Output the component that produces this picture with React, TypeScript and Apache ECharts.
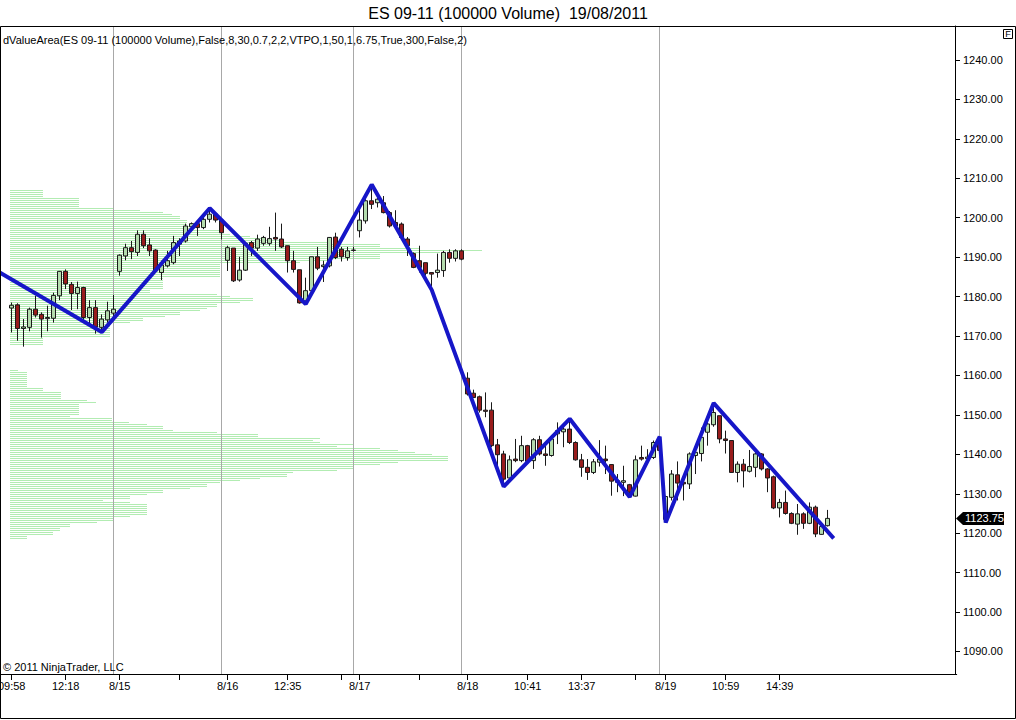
import React, { useEffect, useRef } from "react";
import * as echarts from "echarts";

const TITLE = "ES 09-11 (100000 Volume)  19/08/2011";
const INDICATOR =
  "dValueArea(ES 09-11 (100000 Volume),False,8,30,0.7,2,2,VTPO,1,50,1,6.75,True,300,False,2)";
const COPYRIGHT = "\u00A9 2011 NinjaTrader, LLC";
const FONT = '"Liberation Sans", Arial, sans-serif';

// category slots: 2 leading empty slots, then the bars
const LEAD = 2;
const SLOTS = 160;

// OHLC bars: [open, close, low, high]
const bars: number[][] = [
  [1177.1, 1177.8, 1170.9, 1178.5],
  [1177.9, 1171.9, 1168.8, 1178.3],
  [1171.9, 1172.3, 1167.3, 1174.3],
  [1172.2, 1176.8, 1171.2, 1177.2],
  [1176.8, 1175.3, 1174.7, 1180.2],
  [1175.5, 1174.3, 1169.6, 1176.0],
  [1174.4, 1174.7, 1171.2, 1177.7],
  [1174.5, 1180.3, 1173.4, 1181.0],
  [1180.2, 1186.4, 1179.1, 1186.5],
  [1186.4, 1183.2, 1181.9, 1186.9],
  [1183.1, 1180.8, 1176.6, 1183.7],
  [1180.8, 1182.3, 1176.8, 1183.8],
  [1182.3, 1174.7, 1173.9, 1182.5],
  [1174.7, 1177.2, 1173.0, 1179.1],
  [1177.2, 1172.3, 1170.6, 1179.1],
  [1172.2, 1174.3, 1171.0, 1175.5],
  [1174.1, 1176.4, 1173.4, 1178.7],
  [1175.8, 1176.8, 1175.1, 1180.4],
  [1186.4, 1190.5, 1185.3, 1190.7],
  [1190.3, 1192.4, 1189.2, 1193.4],
  [1192.4, 1191.4, 1189.5, 1194.1],
  [1191.2, 1195.8, 1190.3, 1196.8],
  [1195.8, 1192.9, 1192.3, 1196.8],
  [1193.1, 1191.6, 1190.3, 1194.8],
  [1191.8, 1186.5, 1186.1, 1192.0],
  [1186.1, 1188.0, 1184.2, 1189.1],
  [1187.8, 1189.1, 1187.4, 1191.6],
  [1188.6, 1193.7, 1188.2, 1195.4],
  [1193.3, 1194.1, 1190.3, 1194.8],
  [1194.1, 1197.9, 1193.7, 1198.5],
  [1197.7, 1198.5, 1196.7, 1198.8],
  [1198.5, 1197.5, 1195.4, 1199.2],
  [1197.5, 1199.6, 1197.1, 1200.9],
  [1199.6, 1200.9, 1198.8, 1202.4],
  [1200.9, 1199.4, 1198.8, 1201.0],
  [1199.4, 1196.2, 1194.5, 1199.6],
  [1189.2, 1192.4, 1186.5, 1192.9],
  [1192.3, 1184.0, 1183.7, 1192.3],
  [1184.2, 1186.7, 1183.8, 1190.1],
  [1186.7, 1193.5, 1186.5, 1193.7],
  [1193.7, 1192.3, 1190.3, 1194.1],
  [1192.3, 1194.6, 1191.6, 1195.7],
  [1193.5, 1195.0, 1192.9, 1195.4],
  [1193.5, 1194.7, 1192.9, 1197.7],
  [1195.0, 1194.6, 1191.6, 1201.3],
  [1194.6, 1192.6, 1192.3, 1198.5],
  [1192.9, 1189.1, 1186.1, 1192.9],
  [1189.1, 1186.9, 1186.1, 1191.6],
  [1186.8, 1178.4, 1178.2, 1186.8],
  [1178.9, 1181.5, 1178.0, 1184.8],
  [1181.5, 1190.1, 1181.5, 1190.1],
  [1190.1, 1187.2, 1186.7, 1192.6],
  [1187.6, 1188.0, 1183.7, 1189.1],
  [1187.8, 1195.0, 1187.4, 1195.1],
  [1195.1, 1189.9, 1189.5, 1196.2],
  [1192.0, 1190.1, 1188.9, 1192.6],
  [1189.9, 1191.6, 1189.1, 1192.6],
  [1191.7, 1191.8, 1191.4, 1192.6],
  [1196.7, 1199.4, 1195.0, 1201.9],
  [1199.2, 1204.3, 1198.5, 1204.7],
  [1204.3, 1203.4, 1202.2, 1208.0],
  [1203.8, 1204.7, 1202.6, 1206.6],
  [1203.8, 1201.3, 1201.1, 1205.5],
  [1201.3, 1197.9, 1197.5, 1201.7],
  [1198.8, 1197.9, 1197.5, 1201.9],
  [1198.4, 1195.0, 1194.6, 1198.8],
  [1194.6, 1192.9, 1190.3, 1195.1],
  [1190.9, 1187.4, 1187.2, 1191.2],
  [1189.1, 1187.4, 1186.1, 1192.9],
  [1188.6, 1185.9, 1185.3, 1188.6],
  [1186.1, 1185.7, 1182.7, 1186.1],
  [1186.1, 1186.7, 1184.8, 1190.9],
  [1186.6, 1191.2, 1185.0, 1191.6],
  [1191.2, 1189.7, 1188.6, 1192.0],
  [1189.7, 1191.6, 1188.9, 1192.0],
  [1191.6, 1189.5, 1189.2, 1192.0],
  [1159.3, 1155.3, 1154.9, 1160.8],
  [1155.5, 1154.4, 1154.4, 1156.4],
  [1154.6, 1151.2, 1150.6, 1154.9],
  [1151.2, 1150.9, 1149.4, 1155.7],
  [1151.2, 1142.2, 1141.8, 1153.2],
  [1142.4, 1139.9, 1136.9, 1143.9],
  [1140.1, 1133.7, 1132.0, 1140.9],
  [1134.0, 1138.6, 1133.5, 1139.7],
  [1138.8, 1138.4, 1138.0, 1143.9],
  [1138.4, 1142.2, 1138.0, 1144.7],
  [1142.2, 1138.2, 1138.0, 1142.4],
  [1138.4, 1143.7, 1136.3, 1144.1],
  [1143.7, 1140.1, 1139.7, 1144.7],
  [1140.1, 1139.7, 1137.1, 1142.2],
  [1139.7, 1143.9, 1139.4, 1144.7],
  [1145.2, 1146.0, 1142.6, 1148.1],
  [1145.7, 1146.4, 1141.8, 1147.7],
  [1146.4, 1143.0, 1142.6, 1148.8],
  [1143.0, 1138.6, 1138.4, 1143.3],
  [1138.6, 1136.7, 1134.3, 1140.1],
  [1136.7, 1135.4, 1133.5, 1138.8],
  [1135.4, 1138.1, 1135.0, 1138.8],
  [1138.0, 1138.8, 1136.9, 1143.6],
  [1138.8, 1138.4, 1135.0, 1142.2],
  [1137.4, 1133.2, 1129.5, 1137.5],
  [1133.3, 1132.9, 1130.4, 1135.0],
  [1132.9, 1133.3, 1129.4, 1137.1],
  [1132.3, 1130.4, 1129.2, 1132.5],
  [1129.4, 1138.6, 1129.3, 1139.7],
  [1139.2, 1138.8, 1138.4, 1142.2],
  [1138.9, 1139.3, 1137.5, 1141.3],
  [1139.2, 1143.0, 1138.8, 1143.5],
  [1143.0, 1141.0, 1140.5, 1144.5],
  [1123.5, 1129.3, 1122.7, 1129.5],
  [1129.1, 1135.0, 1128.3, 1136.0],
  [1134.8, 1132.7, 1128.3, 1138.2],
  [1132.9, 1132.5, 1128.3, 1133.7],
  [1132.5, 1140.1, 1131.2, 1140.5],
  [1139.7, 1140.5, 1135.0, 1142.6],
  [1140.2, 1144.3, 1138.2, 1146.8],
  [1145.6, 1147.7, 1142.2, 1148.7],
  [1147.5, 1150.6, 1147.0, 1152.8],
  [1149.8, 1143.9, 1142.8, 1149.8],
  [1143.9, 1143.5, 1140.2, 1146.0],
  [1143.5, 1135.4, 1135.4, 1143.5],
  [1135.4, 1137.5, 1132.9, 1138.2],
  [1137.5, 1135.8, 1131.6, 1138.8],
  [1135.7, 1136.9, 1135.4, 1141.1],
  [1136.7, 1140.1, 1134.2, 1140.8],
  [1140.1, 1136.3, 1135.9, 1140.3],
  [1136.3, 1134.0, 1130.4, 1136.5],
  [1134.3, 1126.4, 1126.1, 1134.6],
  [1126.4, 1127.8, 1124.0, 1128.7],
  [1127.8, 1125.0, 1124.7, 1130.8],
  [1125.0, 1122.5, 1122.3, 1125.3],
  [1122.3, 1124.9, 1119.6, 1127.4],
  [1124.9, 1122.5, 1121.1, 1125.3],
  [1122.5, 1126.6, 1122.3, 1127.8],
  [1126.6, 1119.8, 1119.0, 1127.0],
  [1119.7, 1121.7, 1119.6, 1122.5],
  [1121.9, 1123.75, 1121.7, 1125.9],
];

// x-axis labels (bar index -> text) and extra unlabeled ticks
const labelBars = [0, 9, 18, 36, 46, 58, 76, 86, 95, 109, 119, 128];
const labelTexts = ["09:58", "12:18", "8/15", "8/16", "12:35", "8/17", "8/18", "10:41", "13:37", "8/19", "10:59", "14:39"];
const extraTickBars = [28, 55, 68, 104];

// session separator lines (bar index)
const sessionBreakBars = [17, 35, 57, 75, 108];

// zigzag swing points
const zigzagBars = [-2, 15, 33, 49, 60, 70, 82, 93, 103, 108, 109, 117, 137];
const zigzagValues = [1186.1, 1171.0, 1202.4, 1178.1, 1208.4, 1181.7, 1131.8, 1149.0, 1129.2, 1144.5, 1122.7, 1153.0, 1118.7];

// y-axis
const yTicks = [1090, 1100, 1110, 1120, 1130, 1140, 1150, 1160, 1170, 1180, 1190, 1200, 1210, 1220, 1230, 1240];
const Y_MIN = 1084.29;
const Y_MAX = 1248.62;
const lastPrice = 1123.75;

// volume profiles: rows every 0.5 pt, from top price downward
const PROFILE_STEP = 0.5;
const upperProfileTop = 1207.0;
const upperProfileVol = [
  33, 33, 33, 33, 69, 69, 69, 69, 69, 103, 130, 153, 162, 170, 170, 177, 177, 177, 180, 185,
  212, 212, 220, 240, 255, 273, 320, 370, 370, 410, 472, 430, 370, 370, 370, 320, 290, 210, 210, 210,
  210, 210, 210, 210, 210, 153, 153, 153, 153, 153, 153, 140, 140, 207, 220, 243, 243, 230, 207, 207,
  197, 190, 170, 170, 155, 133, 133, 120, 100, 100, 100, 100, 100, 100, 100, 33, 33, 33, 33,
];
const lowerProfileTop = 1161.5;
const lowerProfileVol = [
  8, 17, 17, 17, 17, 17, 17, 17, 17, 33, 33, 51, 51, 51, 51, 77, 86, 69, 69, 69,
  69, 69, 69, 69, 60, 102, 102, 119, 137, 153, 153, 163, 207, 248, 248, 310, 303, 310, 343, 327,
  370, 388, 405, 422, 438, 438, 438, 388, 370, 343, 343, 327, 283, 277, 277, 250, 230, 210, 197, 197,
  180, 153, 153, 137, 120, 120, 93, 120, 137, 137, 137, 137, 137, 137, 120, 103, 103, 87, 60, 60,
  50, 50, 43, 43, 17, 17,
];

const PROFILE_MIN = -13.3;
const PROFILE_MAX = 946.7;
const PROFILE_COLOR = "#b2ecb2";

function profileRows(top: number, vols: number[]) {
  return vols.map((v, i) => [v, top - i * PROFILE_STEP]);
}

export default function App() {
  const ref = useRef<HTMLDivElement>(null);

  useEffect(() => {
    document.body.style.margin = "0";
    if (!ref.current) return;
    const chart = echarts.init(ref.current, undefined, { renderer: "svg" });

    const cats = Array.from({ length: SLOTS }, (_, c) => String(c));
    const labelMap = new Map<number, string>();
    labelBars.forEach((b, i) => labelMap.set(b + LEAD, labelTexts[i]));
    const tickSet = new Set<number>([...labelBars, ...extraTickBars].map((b) => b + LEAD));

    const candleData = bars.map((b, i) => [i + LEAD, b[0], b[1], b[2], b[3]]);
    const zigzagData = zigzagBars.map((b, i) => [b + LEAD, zigzagValues[i]]);
    const profileData = [
      ...profileRows(upperProfileTop, upperProfileVol),
      ...profileRows(lowerProfileTop, lowerProfileVol),
    ];

    const option: any = {
      animation: false,
      backgroundColor: "#ffffff",
      grid: {
        left: -3.3,
        right: 59.3,
        top: 26,
        bottom: 46,
        containLabel: false,
        outerBoundsMode: "none",
      },
      xAxis: [
        {
          type: "category",
          data: cats,
          boundaryGap: true,
          axisLine: { show: true, lineStyle: { color: "#000", width: 1 } },
          axisTick: {
            show: true,
            alignWithLabel: true,
            length: 6,
            interval: (i: number) => tickSet.has(i),
            lineStyle: { color: "#000", width: 1 },
          },
          axisLabel: {
            show: true,
            interval: (i: number) => labelMap.has(i),
            formatter: (_v: string, i: number) => labelMap.get(i) ?? "",
            color: "#000",
            fontSize: 11,
            fontFamily: FONT,
            margin: 6,
          },
          splitLine: { show: false },
        },
        {
          type: "value",
          min: PROFILE_MIN,
          max: PROFILE_MAX,
          show: false,
          splitLine: { show: false },
        },
      ],
      yAxis: {
        type: "value",
        position: "right",
        min: Y_MIN,
        max: Y_MAX,
        offset: -1.7,
        scale: true,
        splitLine: { show: false },
        axisLine: { show: true, onZero: false, lineStyle: { color: "#000", width: 1 } },
        axisTick: { show: true, length: 5, customValues: yTicks, lineStyle: { color: "#000" } },
        axisLabel: {
          customValues: yTicks,
          formatter: (v: number) => v.toFixed(2),
          color: "#000",
          fontSize: 11,
          fontFamily: FONT,
          margin: 8,
        },
      },
      graphic: [
        {
          type: "rect",
          silent: true,
          shape: { x: 0.5, y: 26.5, width: 1015, height: 692 },
          style: { fill: "none", stroke: "#000", lineWidth: 1 },
          z: 100,
        },
        {
          type: "text",
          x: 508,
          y: 13,
          silent: true,
          style: { text: TITLE, fill: "#000", font: `16px ${FONT}`, align: "center", verticalAlign: "middle" },
        },
        {
          type: "text",
          x: 3,
          y: 40,
          silent: true,
          z: 100,
          style: { text: INDICATOR, fill: "#000", font: `11px ${FONT}`, align: "left", verticalAlign: "middle" },
        },
        {
          type: "text",
          x: 3,
          y: 667,
          silent: true,
          z: 100,
          style: { text: COPYRIGHT, fill: "#000", font: `11px ${FONT}`, align: "left", verticalAlign: "middle" },
        },
        {
          type: "rect",
          silent: true,
          shape: { x: 1003.5, y: 29.5, width: 9, height: 9 },
          style: { fill: "#fff", stroke: "#000", lineWidth: 1 },
          z: 100,
        },
        {
          type: "text",
          x: 1008,
          y: 34,
          silent: true,
          z: 101,
          style: { text: "F", fill: "#000", font: `9px ${FONT}`, align: "center", verticalAlign: "middle" },
        },
      ],
      series: [
        {
          type: "custom",
          name: "profile",
          xAxisIndex: 1,
          yAxisIndex: 0,
          silent: true,
          z: 1,
          data: profileData,
          encode: { x: 0, y: 1 },
          itemStyle: { color: PROFILE_COLOR, opacity: 1 },
          emphasis: { disabled: true },
          renderItem: (_params: any, api: any) => {
            const price = api.value(1);
            const p0 = api.coord([0, price]);
            const p1 = api.coord([api.value(0), price]);
            // keep every row on the same pixel parity so the rows stay evenly striped
            const y = 2 * Math.round(p0[1] / 2);
            return {
              type: "rect",
              shape: { x: p0[0], y: y, width: p1[0] - p0[0], height: 1 },
              style: { fill: PROFILE_COLOR, opacity: 1 },
            };
          },
        },
        {
          type: "candlestick",
          name: "ES",
          silent: true,
          z: 3,
          barWidth: 5,
          data: candleData,
          encode: { x: 0, y: [1, 2, 3, 4] },
          itemStyle: {
            color: "#b4dcae",
            color0: "#981c1c",
            borderColor: "#1a1a1a",
            borderColor0: "#1a1a1a",
            borderWidth: 1,
          },
          markLine: {
            silent: true,
            symbol: "none",
            label: { show: false },
            lineStyle: { color: "#a8a8a8", width: 1, type: "solid" },
            data: sessionBreakBars.map((b) => ({ xAxis: String(b + LEAD) })),
            z: 2,
          },
        },
        {
          type: "line",
          name: "zigzag",
          silent: true,
          z: 5,
          data: zigzagData,
          symbol: "none",
          lineStyle: { color: "#1616c8", width: 4 },
        },
        {
          type: "custom",
          name: "lastPrice",
          xAxisIndex: 1,
          yAxisIndex: 0,
          silent: true,
          clip: false,
          z: 10,
          data: [[0, lastPrice]],
          encode: { x: 0, y: 1 },
          renderItem: (_params: any, api: any) => {
            const py = api.coord([0, api.value(1)])[1];
            return {
              type: "group",
              children: [
                {
                  type: "polygon",
                  shape: {
                    points: [
                      [956, py],
                      [963, py - 6.5],
                      [1004, py - 6.5],
                      [1004, py + 6.5],
                      [963, py + 6.5],
                    ],
                  },
                  style: { fill: "#000" },
                },
                {
                  type: "text",
                  x: 965,
                  y: py,
                  style: {
                    text: api.value(1).toFixed(2),
                    fill: "#fff",
                    font: `11px ${FONT}`,
                    align: "left",
                    verticalAlign: "middle",
                  },
                },
              ],
            };
          },
        },
      ],
    };
    chart.setOption(option);

    return () => chart.dispose();
  }, []);

  return (
    <div style={{ position: "fixed", left: 0, top: 0, width: 1016, height: 720, background: "#fff" }}>
      <div ref={ref} style={{ width: 1016, height: 720 }} />
    </div>
  );
}
